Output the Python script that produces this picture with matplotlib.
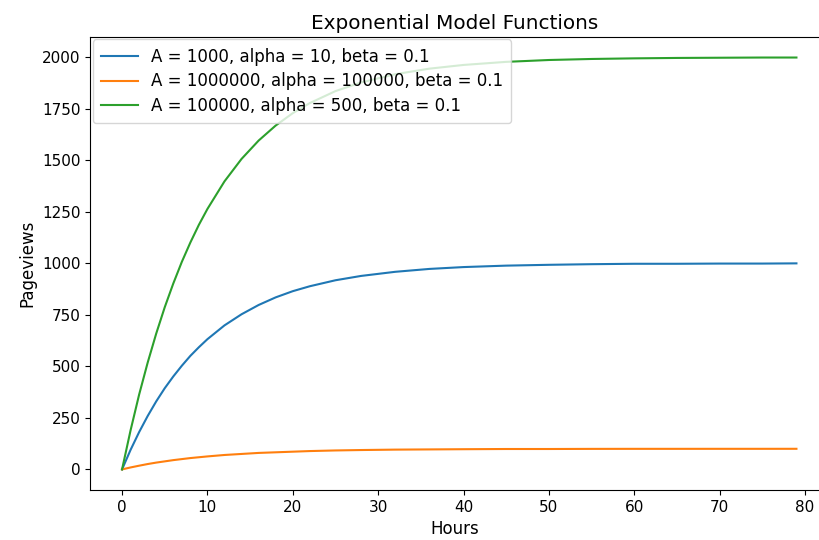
import matplotlib
matplotlib.use("Agg")
import matplotlib.pyplot as plt

# Values
hours = [0, 1, 2, 3, 4, 5, 6, 7, 8, 9, 10, 12, 14, 16, 18, 20, 22, 25, 28,
         32, 36, 40, 45, 50, 55, 60, 65, 70, 75, 79]
views_a = [0, 95, 181, 259, 330, 394, 451, 503, 551, 593, 632, 699, 753, 798,
           835, 865, 889, 918, 939, 959, 973, 982, 989, 993, 996, 998, 998,
           999, 999, 1000]
views_b = [0, 9.5, 18, 26, 33, 39, 45, 50, 55, 59, 63, 70, 75, 80, 83, 86, 89,
           92, 94, 96, 97, 98, 99, 99, 99.6, 99.8, 99.8, 99.9, 99.9, 100]
views_c = [0, 190, 363, 518, 659, 787, 902, 1007, 1101, 1187, 1264, 1398,
           1507, 1596, 1669, 1729, 1778, 1836, 1878, 1918, 1945, 1963, 1978,
           1987, 1992, 1995, 1997, 1998, 1999, 1999]
labels = ["A = 1000, alpha = 10, beta = 0.1",
          "A = 1000000, alpha = 100000, beta = 0.1",
          "A = 100000, alpha = 500, beta = 0.1"]

plt.rcParams["font.size"] = 12

fig = plt.figure(figsize=(8.2, 5.4), dpi=100)
ax = fig.add_axes([0.1098, 0.0926, 0.8902, 0.839])

for ys, lab in zip([views_a, views_b, views_c], labels):
    ax.plot(hours, ys, label=lab)

ax.set_xlim(-3.75, 81.76)
ax.tick_params(labelsize=11)
ax.set_title("Exponential Model Functions")
ax.set_xlabel("Hours")
ax.set_ylabel("Pageviews")
ax.legend(loc="upper left", borderaxespad=0.15, handlelength=2.2,
          labelspacing=0.4, borderpad=0.5)

fig.savefig("out.png", dpi=100)
